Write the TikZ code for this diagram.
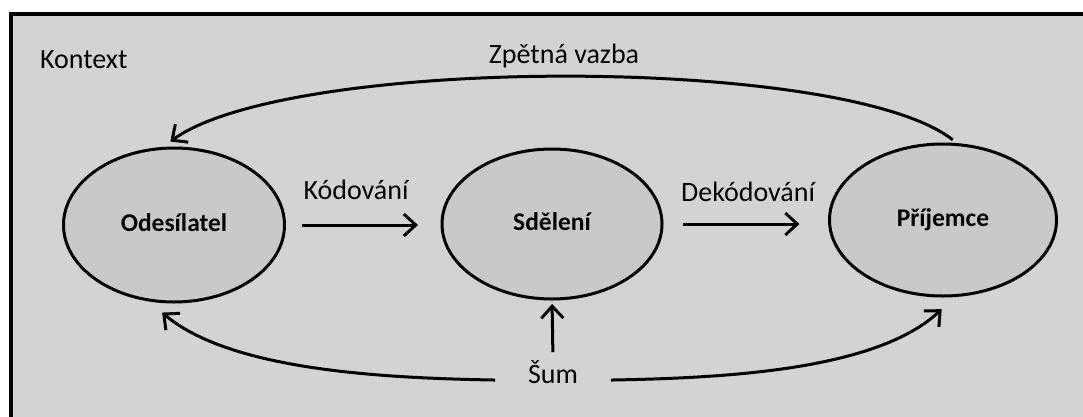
\documentclass[tikz,border=0pt]{standalone}
\usepackage{fontspec}
\setmainfont{Carlito}
\usetikzlibrary{arrows.meta,shapes.geometric}
\definecolor{panelfill}{HTML}{D3D3D3}
\definecolor{stagefill}{HTML}{C9C9C9}

\begin{document}
\begin{tikzpicture}[x=1pt,y=-1pt,
  every node/.style={inner sep=0pt, outer sep=0pt},
  stage/.style={ellipse, draw=black, line width=3pt, fill=stagefill,
    font=\fontsize{25.5}{30}\selectfont\bfseries, text height=1.3em, text depth=0pt},
  lbl/.style={font=\fontsize{28}{34}\selectfont, anchor=base},
  flow/.style={line width=3pt, -{Straight Barb[length=12pt,width=22pt]}},
]
\useasboundingbox (0,0) rectangle (1083,416);
\fill[white] (0,0) rectangle (1083,416);

% context panel, running off the right and bottom edges
\begin{scope}
  \clip (0,0) rectangle (1083,416);
  \draw[line width=4pt, fill=panelfill] (11,14) rectangle (1120,450);
\end{scope}

\node[lbl, anchor=base west] (ctx) at (40,68) {Kontext};

% stages
\node[stage, minimum width=221pt, minimum height=154pt] (snd) at (174,225) {Odesílatel};
\node[stage, minimum width=220pt, minimum height=150pt] (msg) at (552,224) {Sdělení};
\node[stage, minimum width=227pt, minimum height=152pt] (rcv) at (943,220) {Příjemce};

% encoding and decoding
\draw[flow, shorten <=17pt, shorten >=24pt] (snd.east) -- (snd.east -| msg.west);
\node[lbl] (enc) at (356,199) {Kódování};
\draw[flow, shorten <=21pt, shorten >=30pt] (msg.east) -- (msg.east -| rcv.west);
\node[lbl] (dec) at (748,201) {Dekódování};

% feedback
\draw[flow, shorten <=8pt, shorten >=12pt]
  (rcv.78) .. controls (845,55) and (290,55) .. (snd.100);
\node[lbl] (fb) at (564,63) {Zpětná vazba};

% noise
\node[lbl] (noise) at (553,383) {Šum};
\draw[flow, shorten <=8pt, shorten >=5pt] (noise.north) -- (msg.south);
\draw[flow, shorten <=33pt, shorten >=20pt]
  (noise.mid west) .. controls (380,378) and (230,370) .. (snd.-110);
\draw[flow, shorten <=33pt, shorten >=20pt]
  (noise.mid east) .. controls (727,378) and (877,370) .. (rcv.-80);
\end{tikzpicture}
\end{document}
